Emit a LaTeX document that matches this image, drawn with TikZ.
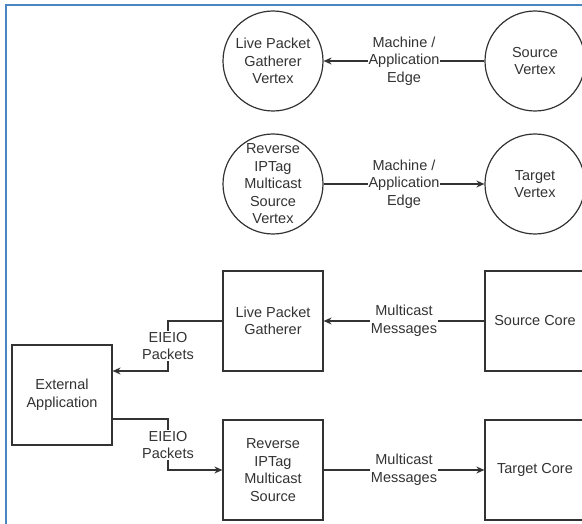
\documentclass[tikz,border=0pt]{standalone}
\usepackage{fontspec}
\setmainfont{Liberation Sans}
\usetikzlibrary{arrows.meta}
\definecolor{ink}{HTML}{333333}
\definecolor{frameblue}{HTML}{4A86C4}
\begin{document}
\begin{tikzpicture}[x=1pt,y=-1pt,
  every node/.style={font=\fontsize{14.5}{17.5}\selectfont, text=ink},
  vertex/.style={draw=ink, line width=1.2pt, circle, minimum size=100pt, inner sep=0pt, align=center},
  vtext/.style={align=center, inner sep=0pt},
  core/.style={draw=ink, line width=1.2pt, rectangle, minimum width=100pt, minimum height=100pt, inner sep=0pt, align=center},
  flow/.style={draw=ink, line width=1.2pt},
  arr/.style={flow, -{Stealth[length=8pt,width=7pt]}},
  tag/.style={fill=white, align=center, inner sep=1pt},
  frameline/.style={draw=frameblue, line width=1.5pt}]
\useasboundingbox (0,0) rectangle (582,524);
\fill[white] (0,0) rectangle (582,524);

% outer frame (left and top edges)
\draw[frameline] (6,524) -- (6,5) -- (582,5);

% graph level: vertices
\node[vertex] (lpgv) at (273,61) {Live Packet\\Gatherer\\Vertex};
\node[vertex] (sv)   at (535,61) {Source\\Vertex};
\node[vertex, label={[vtext]center:Reverse\\IPTag\\Multicast\\Source\\Vertex}] (rsv) at (273,184) {};
\node[vertex] (tv)   at (535,184) {Target\\Vertex};

\draw[arr] (sv) -- node[tag] {Machine /\\Application\\Edge} (lpgv);
\draw[arr] (rsv) -- node[tag] {Machine /\\Application\\Edge} (tv);

% machine level: cores and host
\node[core] (lpg) at (273,321) {Live Packet\\Gatherer};
\node[core] (sc)  at (535,321) {Source Core};
\node[core] (rev) at (273,470) {Reverse\\IPTag\\Multicast\\Source};
\node[core] (tc)  at (535,470) {Target Core};
\node[core] (ext) at (62,395)  {External\\Application};

\draw[arr] (sc) -- node[tag] {Multicast\\Messages} (lpg);
\draw[arr] (rev) -- node[tag] {Multicast\\Messages} (tc);

\coordinate (e1) at (168,346);
\coordinate (e2) at (168,445);
\draw[arr] (lpg.west) -| (e1) |- ([yshift=24pt]ext.east);
\node[tag] at (e1) {EIEIO\\Packets};
\draw[arr] ([yshift=-24pt]ext.east) -| (e2) |- (rev.west);
\node[tag] at (e2) {EIEIO\\Packets};
\end{tikzpicture}
\end{document}
